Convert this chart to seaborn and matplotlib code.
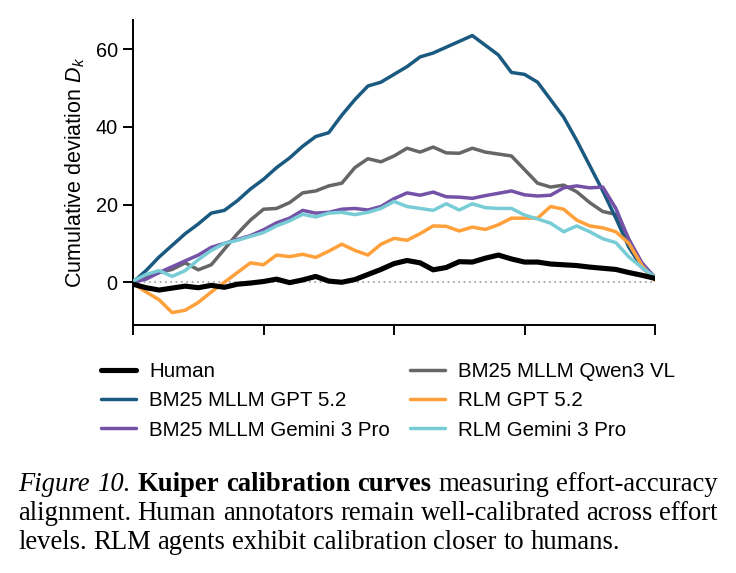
import numpy as np
import pandas as pd
import matplotlib
matplotlib.use('Agg')
import matplotlib.pyplot as plt
import seaborn as sns

# effort quantile grid (x axis) and cumulative deviation D_k per method
effort = [i / 40 for i in range(41)]

human = [-0.5, -1.4, -2.0, -1.5, -1.0, -1.4, -0.8, -1.3, -0.5, -0.2, 0.2,
         0.8, -0.1, 0.6, 1.5, 0.3, 0.0, 0.7, 2.0, 3.3, 4.8,
         5.6, 5.0, 3.2, 3.8, 5.3, 5.2, 6.2, 7.0, 6.0, 5.2,
         5.2, 4.7, 4.5, 4.3, 3.9, 3.6, 3.3, 2.5, 1.8, 1.0]
bm25_gpt = [0.0, 3.0, 6.5, 9.5, 12.5, 15.0, 17.8, 18.5, 21.0, 24.0, 26.5,
            29.5, 32.0, 35.0, 37.5, 38.5, 43.0, 47.0, 50.5, 51.5, 53.5,
            55.5, 58.0, 59.0, 60.5, 62.0, 63.5, 61.0, 58.5, 54.0, 53.5,
            51.5, 47.0, 42.5, 36.5, 30.0, 23.5, 16.5, 9.0, 3.8, 1.0]
bm25_gemini = [0.0, 0.8, 2.5, 4.0, 5.5, 7.0, 9.0, 10.0, 11.0, 12.0, 13.5,
               15.3, 16.5, 18.5, 17.8, 18.0, 18.8, 19.0, 18.6, 19.5, 21.5,
               23.0, 22.4, 23.2, 22.0, 21.9, 21.6, 22.3, 22.9, 23.5, 22.5,
               22.2, 22.4, 24.3, 24.8, 24.3, 24.5, 19.0, 11.0, 5.0, 1.2]
bm25_qwen = [0.3, 1.5, 2.5, 3.3, 5.0, 3.2, 4.5, 8.5, 12.5, 16.0, 18.8,
             19.0, 20.5, 23.0, 23.5, 24.8, 25.5, 29.5, 31.8, 31.0, 32.5,
             34.5, 33.5, 34.8, 33.3, 33.2, 34.5, 33.5, 33.0, 32.5, 29.0,
             25.5, 24.5, 25.0, 23.3, 20.5, 18.2, 17.5, 11.0, 4.5, 1.2]
rlm_gpt = [-0.3, -2.5, -4.5, -7.8, -7.2, -5.2, -2.5, 0.0, 2.5, 5.0, 4.5,
           7.0, 6.6, 7.2, 6.4, 8.0, 9.8, 8.2, 7.0, 9.8, 11.3,
           10.8, 12.5, 14.5, 14.4, 13.2, 14.2, 13.6, 14.8, 16.5, 16.5,
           16.5, 19.5, 18.8, 16.0, 14.5, 14.0, 13.0, 10.0, 4.3, 0.5]
rlm_gemini = [0.3, 2.0, 3.0, 1.5, 3.0, 5.8, 8.2, 10.0, 10.8, 11.8, 12.8,
              14.5, 15.8, 17.5, 16.8, 17.8, 18.0, 17.4, 18.0, 19.0, 20.8,
              19.5, 19.0, 18.5, 20.2, 18.6, 20.2, 19.2, 19.0, 19.0, 17.3,
              16.3, 15.2, 13.0, 14.5, 13.0, 11.2, 10.2, 6.5, 3.8, 1.3]

names = ['Human', 'BM25 MLLM GPT 5.2', 'BM25 MLLM Gemini 3 Pro',
         'BM25 MLLM Qwen3 VL', 'RLM GPT 5.2', 'RLM Gemini 3 Pro']
series = [human, bm25_gpt, bm25_gemini, bm25_qwen, rlm_gpt, rlm_gemini]
colors = ['#000000', '#1b5a80', '#7352a8', '#666666', '#ffa03a', '#78ccd6']
widths = [3.7, 2.5, 2.5, 2.5, 2.5, 2.5]
# draw order: human on top
zorders = [8, 3, 4, 2, 5, 6]

sns.set_theme(style='ticks')
plt.rcParams['font.family'] = ['Liberation Sans', 'DejaVu Sans']
plt.rcParams['text.color'] = 'black'
plt.rcParams['mathtext.fontset'] = 'custom'
plt.rcParams['mathtext.it'] = 'Liberation Sans:italic'
plt.rcParams['mathtext.rm'] = 'Liberation Sans'

fig = plt.figure(figsize=(7.36, 5.73), dpi=100)
W, H = 736, 573
ax = fig.add_axes([133 / W, 1 - 325 / H, (655 - 133) / W, (325 - 20) / H])

ax.axhline(0, color='#999999', lw=1.2, ls=(0, (1, 2.2)), zorder=1)

for name, vals, c, lw, z in zip(names, series, colors, widths, zorders):
    df = pd.DataFrame({'effort': effort, 'D': vals})
    sns.lineplot(data=df, x='effort', y='D', color=c, lw=lw, label=name,
                 ax=ax, zorder=z, legend=False)

ax.set_xlim(0, 1)
ax.set_ylim(-11, 67.5)
ax.set_xticks([0, 0.25, 0.5, 0.75, 1.0])
ax.set_xticklabels([])
ax.set_yticks([0, 20, 40, 60])
ax.tick_params(axis='both', length=7.5, width=1.4, labelsize=14.3, pad=3.5,
               color='black', labelcolor='black')
for s in ['top', 'right']:
    ax.spines[s].set_visible(False)
for s in ['left', 'bottom']:
    ax.spines[s].set_linewidth(1.4)
    ax.spines[s].set_color('black')
ax.set_xlabel('')
ax.set_ylabel('Cumulative deviation $D_k$', fontsize=15.5, labelpad=6,
              color='black')

handles = ax.get_lines()[1:]
fig.legend(handles, names, loc='upper left', bbox_to_anchor=(101 / W, 1 - 362 / H),
           ncol=2, frameon=False, fontsize=14.8, handlelength=1.7,
           handletextpad=0.63, columnspacing=0.98, labelspacing=0.5,
           borderaxespad=0, borderpad=0, labelcolor='black')

# caption, justified to the figure width
fig.canvas.draw()
renderer = fig.canvas.get_renderer()
cap_font = ['Liberation Serif', 'DejaVu Serif']
cap_size = 19.2


def width_of(txt, style='normal', weight='normal'):
    t = fig.text(0, 0, txt, fontsize=cap_size, family=cap_font,
                 style=style, weight=weight)
    w = t.get_window_extent(renderer).width
    t.remove()
    return w


lines = [
    ([('Figure', 'italic', 'normal'), ('10.', 'italic', 'normal'),
      ('Kuiper', 'normal', 'bold'), ('calibration', 'normal', 'bold'),
      ('curves', 'normal', 'bold'), ('measuring', 'normal', 'normal'),
      ('effort-accuracy', 'normal', 'normal')], True),
    ([(w, 'normal', 'normal') for w in
      'alignment. Human annotators remain well-calibrated across effort'.split()], True),
    ([(w, 'normal', 'normal') for w in
      'levels. RLM agents exhibit calibration closer to humans.'.split()], False),
]
x0, x1 = 18, 718
baselines = [491, 520, 549]
space = width_of('a b') - width_of('ab')
for (words, justify), yb in zip(lines, baselines):
    ws = [width_of(w, s, b) for w, s, b in words]
    gap = (x1 - x0 - sum(ws)) / (len(ws) - 1) if justify else space
    x = x0
    for (w, s, b), wd in zip(words, ws):
        fig.text(x / W, 1 - yb / H, w, fontsize=cap_size, family=cap_font,
                 style=s, weight=b, va='baseline', ha='left', color='black')
        x += wd + gap

fig.savefig('out.png', dpi=100, facecolor='white')
